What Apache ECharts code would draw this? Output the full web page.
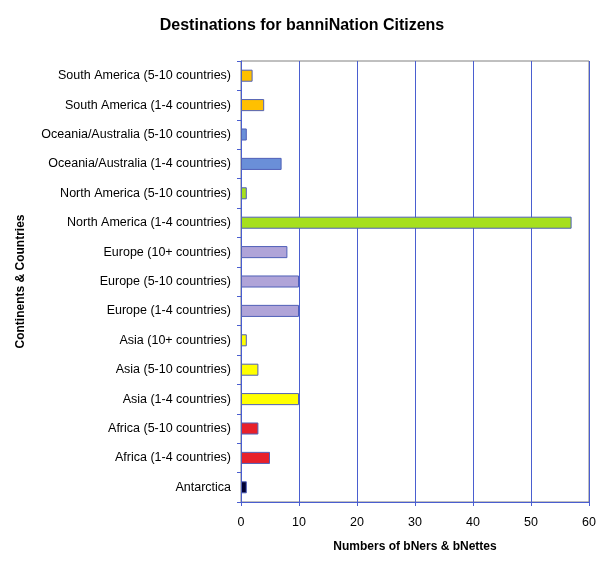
<!DOCTYPE html>
<html>
<head>
<meta charset="utf-8">
<script src="https://cdn.jsdelivr.net/npm/echarts@6/dist/echarts.min.js"></script>
<style>
  html, body { margin: 0; padding: 0; background: #fff; }
  #chart { width: 604px; height: 564px; }
</style>
</head>
<body>
<div id="chart"></div>
<script>
// categories, bottom to top
var categories = [
    'Antarctica',
    'Africa (1-4 countries)',
    'Africa (5-10 countries)',
    'Asia (1-4 countries)',
    'Asia (5-10 countries)',
    'Asia (10+ countries)',
    'Europe (1-4 countries)',
    'Europe (5-10 countries)',
    'Europe (10+ countries)',
    'North America (1-4 countries)',
    'North America (5-10 countries)',
    'Oceania/Australia (1-4 countries)',
    'Oceania/Australia (5-10 countries)',
    'South America (1-4 countries)',
    'South America (5-10 countries)'
];
var counts = [1, 5, 3, 10, 3, 1, 10, 10, 8, 57, 1, 7, 1, 4, 2];
var xTicks = [0, 10, 20, 30, 40, 50, 60];

var barColors = ['#000033', '#e8202a', '#e8202a', '#ffff00', '#ffff00', '#ffff00',
    '#b0a4d8', '#b0a4d8', '#b0a4d8', '#a6e01e', '#a6e01e', '#6a8fd8', '#6a8fd8',
    '#ffc000', '#ffc000'];

var font = '"Liberation Sans", Arial, sans-serif';
var axisBlue = '#4a5ed0';

var chart = echarts.init(document.getElementById('chart'));
var option = {
    animation: false,
    backgroundColor: '#fff',
    title: {
        text: 'Destinations for banniNation Citizens',
        left: 'center',
        top: 13,
        textStyle: { fontFamily: font, fontSize: 16, fontWeight: 'bold', color: '#000' }
    },
    grid: {
        left: 241, right: 15, top: 61, bottom: 62,
        show: true,
        borderColor: '#808080',
        borderWidth: 1
    },
    xAxis: {
        type: 'value',
        min: xTicks[0],
        max: xTicks[xTicks.length - 1],
        interval: 10,
        name: 'Numbers of bNers & bNettes',
        nameLocation: 'middle',
        nameGap: 39,
        nameTextStyle: { fontFamily: font, fontSize: 12, fontWeight: 'bold', color: '#000' },
        axisLine: { show: true, lineStyle: { color: axisBlue } },
        axisTick: { show: true, length: 4, lineStyle: { color: axisBlue } },
        axisLabel: { fontFamily: font, fontSize: 12.5, color: '#000', margin: 14 },
        splitLine: { show: true, lineStyle: { color: axisBlue, width: 1, type: 'solid' } }
    },
    yAxis: {
        type: 'category',
        data: categories,
        name: 'Continents & Countries',
        nameLocation: 'middle',
        nameGap: 214,
        nameRotate: 90,
        nameTextStyle: { fontFamily: font, fontSize: 12, fontWeight: 'bold', color: '#000' },
        axisLine: { show: true, lineStyle: { color: axisBlue } },
        axisTick: { show: true, length: 4, lineStyle: { color: axisBlue } },
        axisLabel: { fontFamily: font, fontSize: 12.5, color: '#000', margin: 10 },
        splitLine: { show: false }
    },
    series: [{
        type: 'bar',
        barWidth: '41%',
        data: counts.map(function (v, i) {
            return {
                value: v,
                itemStyle: { color: barColors[i], borderColor: '#5060b8', borderWidth: 1 }
            };
        })
    }]
};
chart.setOption(option);
</script>
</body>
</html>
